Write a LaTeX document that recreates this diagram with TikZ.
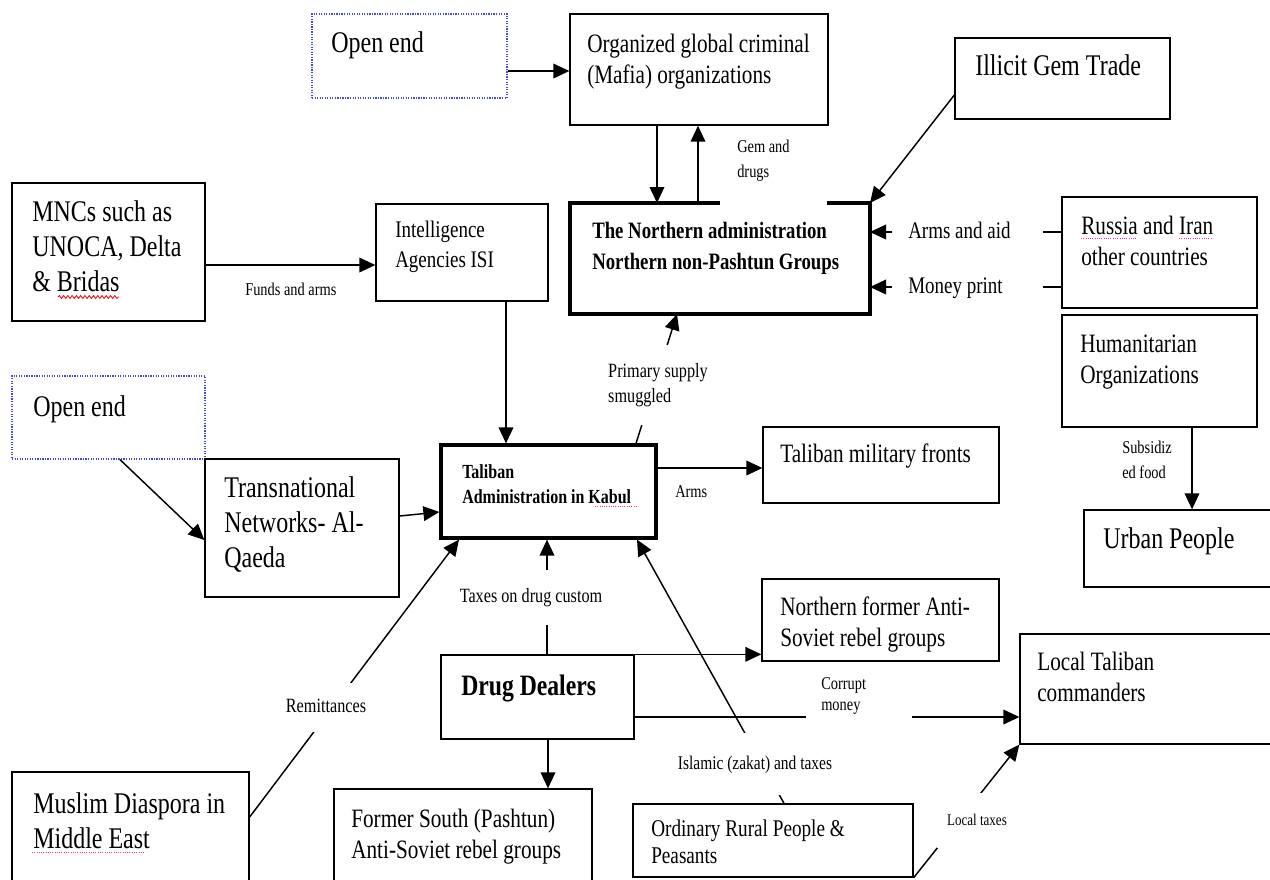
\documentclass[tikz,border=0pt]{standalone}
\usepackage{fontspec}
\setmainfont{Liberation Serif}[FakeStretch=0.8]
\usetikzlibrary{arrows.meta,fit,decorations.pathmorphing}
\definecolor{openblue}{RGB}{70,70,235}
% type sizes (1 unit = 0.75pt)
\newcommand\fbig{\fontsize{22.5}{26.25}\selectfont}
\newcommand\fmid{\fontsize{19.9}{23.25}\selectfont}
\newcommand\fsm{\fontsize{17.8}{22.5}\selectfont}
\newcommand\frur{\fontsize{18}{20.25}\selectfont}
\newcommand\flab{\fontsize{13.5}{18.75}\selectfont}
\newcommand\flabc{\fontsize{13.5}{15.75}\selectfont}
\newcommand\flabb{\fontsize{15.2}{18.75}\selectfont}
\newcommand\flabi{\fontsize{14.5}{18.75}\selectfont}
\newcommand\fltax{\fontsize{12.2}{18.75}\selectfont}
\newcommand\fbnorth{\bfseries\fontsize{17.6}{23.25}\selectfont}
\newcommand\fbtal{\bfseries\fontsize{15}{18.75}\selectfont}
\newcommand\fbdd{\bfseries\fontsize{22.2}{26.25}\selectfont}
\begin{document}
\begin{tikzpicture}[x=0.75pt,y=-0.75pt,
  box/.style={draw, line width=1pt, inner sep=0pt},
  openbox/.style={draw=openblue, densely dotted, line width=0.9pt, inner sep=0pt},
  heavy/.style={line width=2.4pt},
  tx/.style={inner sep=0pt, anchor=north west, align=left},
  arr/.style={line width=1.1pt, -{Triangle[length=12pt,width=11pt]}},
  cover/.style={fill=white, inner sep=2pt},
  spell/.style={magenta!80, densely dotted, line width=0.7pt}]
\useasboundingbox (0,0) rectangle (1270,879);
\clip (0,0) rectangle (1270,879);
\fill[white] (0,0) rectangle (1270,879);

% boxes
\node[openbox, fit={(312,14) (507,98)}] (oe1) {};
\node[box, fit={(570,14) (828,125)}] (org) {};
\node[box, fit={(955,38) (1170,119)}] (gem) {};
\node[box, fit={(12,183) (205,321)}] (mnc) {};
\node[box, fit={(376,204) (548,301)}] (isi) {};
\node[inner sep=0pt, outer sep=0pt, fit={(570,203) (870,314)}] (nadm) {};
\draw[heavy] (720,203) -- (nadm.north west) -- (nadm.south west) -- (nadm.south east) -- (nadm.north east) -- (827,203);
\node[box, fit={(1062,197) (1257,308)}] (rus) {};
\node[box, fit={(1062,315) (1257,427)}] (hum) {};
\node[openbox, fit={(12,376) (205,459)}] (oe2) {};
\node[box, fit={(205,459) (399,597)}] (tt) {};
\node[box, line width=2.4pt, fit={(441,445) (656,538)}] (tal) {};
\node[box, fit={(763,427) (999,503)}] (tmf) {};
\node[box, fit={(1084,510) (1285,587)}] (urb) {};
\node[box, fit={(762,579) (999,661)}] (nfas) {};
\node[box, fit={(441,655) (634,739)}] (dd) {};
\node[box, fit={(1020,634) (1285,744)}] (ltc) {};
\node[box, fit={(12,772) (249,895)}] (mde) {};
\node[box, fit={(334,789) (592,895)}] (fsp) {};
\node[box, fit={(633,804) (913,877)}] (orp) {};

% box texts
\node[tx, font=\fbig] (oe1-t) at (331,28) {\strut Open end};
\node[tx, font=\fmid] (org-t) at (587,30.7) {\strut Organized global criminal\\\strut (Mafia) organizations};
\node[tx, font=\fbig] (gem-t) at (975,51) {\strut Illicit Gem Trade};
\node[tx, font=\fbig] (mnc-t) at (32,197) {\strut MNCs such as\\\strut UNOCA, Delta\\\strut \& Bridas};
\node[tx, font=\fsm] (isi-t) at (395,216.6) {\strut Intelligence\\\strut Agencies ISI};
\node[tx, font=\fbnorth] (nadm-t) at (592,217) {\strut The Northern administration\\\strut Northern non-Pashtun Groups};
\node[tx, font=\fmid] (rus-t) at (1081,212.7) {\strut Russia and Iran\\\strut other countries};
\node[tx, font=\fmid] (hum-t) at (1080,330.7) {\strut Humanitarian\\\strut Organizations};
\node[tx, font=\fbig] (oe2-t) at (33,392) {\strut Open end};
\node[tx, font=\fbig] (tt-t) at (224,473) {\strut Transnational\\\strut Networks- Al-\\\strut Qaeda};
\node[tx, font=\fbtal] (tal-t) at (462,461) {\strut Taliban\\\strut Administration in Kabul};
\node[tx, font=\fmid] (tmf-t) at (780,440.7) {\strut Taliban military fronts};
\node[tx, font=\fbig] (urb-t) at (1103,524) {\strut Urban People};
\node[tx, font=\fmid] (nfas-t) at (780,593.7) {\strut Northern former Anti-\\\strut Soviet rebel groups};
\node[tx, font=\fbdd] (dd-t) at (461,671) {\strut Drug Dealers};
\node[tx, font=\fmid] (ltc-t) at (1037,648.7) {\strut Local Taliban\\\strut commanders};
\node[tx, font=\fbig] (mde-t) at (33,789) {\strut Muslim Diaspora in\\\strut Middle East};
\node[tx, font=\fmid] (fsp-t) at (351,805.7) {\strut Former South (Pashtun)\\\strut Anti-Soviet rebel groups};
\node[tx, font=\frur] (orp-t) at (651,817.8) {\strut Ordinary Rural People \&\\\strut Peasants};

% connectors
\draw[arr] (oe1.east |- 0,71) -- (org.west |- 0,71);
\draw[arr] (657,0 |- org.south) -- (657,0 |- nadm.north);
\draw[arr] (698,0 |- nadm.north) -- (698,0 |- org.south);
\draw[arr] (gem.west |- 0,95) -- (nadm.north east);
\draw[arr] (rus.west |- 0,232) -- (nadm.east |- 0,232);
\draw[arr] (rus.west |- 0,287) -- (nadm.east |- 0,287);
\draw[arr] (mnc.east |- 0,265) -- (isi.west |- 0,265);
\draw[arr] (506,0 |- isi.south) -- (506,0 |- tal.north);
\draw[arr] (636,0 |- tal.north) -- (677,0 |- nadm.south);
\draw[arr] (120,0 |- oe2.south) -- (tt.west |- 0,540);
\draw[arr] (tt.east |- 0,516) -- (tal.west |- 0,512);
\draw[arr] (tal.east |- 0,468) -- (tmf.west |- 0,468);
\draw[arr] (1192,0 |- hum.south) -- (1192,0 |- urb.north);
\draw[arr] (547,0 |- dd.north) -- (547,0 |- tal.south);
\draw[arr] (dd.north east) -- (nfas.west |- dd.north east);
\draw[arr] (dd.east |- 0,717) -- (ltc.west |- 0,717);
\draw[arr] (548,0 |- dd.south) -- (548,0 |- fsp.north);
\draw[arr] (mde.east |- 0,817) -- (459,0 |- tal.south);
\draw[arr] (784,0 |- orp.north) -- (637,0 |- tal.south);
\draw[arr] (orp.south east) -- (ltc.south west);

% connector labels
\node[tx, font=\flab] (l-gem) at (737,134.5) {\strut Gem and\\\strut drugs};
\node[cover, font=\fsm, anchor=west, inner xsep=12pt] (l-aid) at (892,232) {\strut Arms and aid\kern12pt};
\node[cover, font=\fsm, anchor=west, inner xsep=12pt] (l-print) at (892,287) {\strut Money print\kern18pt};
\node[tx, font=\flab] (l-funds) at (245,277.5) {\strut Funds and arms};
\node[cover, font=\flabb, minimum width=87pt, minimum height=60pt, align=left] (l-prim) at (658,385) {\strut Primary supply\\\strut smuggled};
\node[tx, font=\flab] (l-arms) at (675,479.5) {\strut Arms};
\node[tx, font=\flab] (l-sub) at (1122,435.5) {\strut Subsidiz\\\strut ed food};
\node[cover, font=\flabb, minimum height=41.25pt, inner xsep=3pt] (l-tax) at (531,597.5) {\strut Taxes on drug custom};
\node[cover, font=\flabc, anchor=north west, inner xsep=11.25pt, inner ysep=3.75pt, text width=57pt, align=left] (l-corr) at (806,670) {\strut Corrupt\\\strut money};
\node[cover, font=\flabb, minimum width=69pt, minimum height=36.75pt] (l-rem) at (326,707.5) {\strut Remittances};
\node[cover, font=\flabi, minimum width=135pt, minimum height=46.5pt] (l-isl) at (755,764) {\strut Islamic (zakat) and taxes};
\node[cover, font=\fltax, minimum width=60pt, minimum height=41.25pt] (l-loc) at (977,820) {\strut Local taxes};

% proofing marks under words
\draw[red, line width=0.6pt, decorate, decoration={snake, amplitude=1.1pt, segment length=3.2pt}] (58,297) -- (119,297);
\draw[spell] (32,852) -- (145,852);
\draw[spell] (1081,238) -- (1137,238);
\draw[spell] (1179,238) -- (1213,238);
\draw[spell] (595,506) -- (637,506);
\end{tikzpicture}
\end{document}
